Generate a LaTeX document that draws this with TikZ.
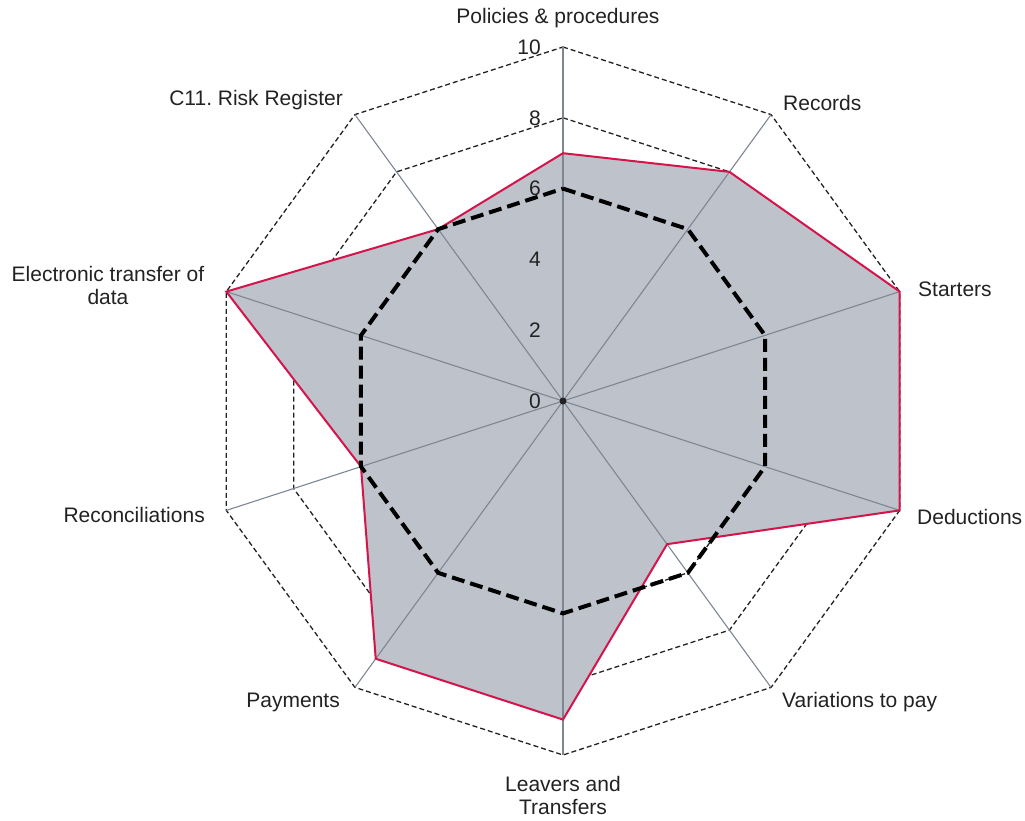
\documentclass[tikz,border=0pt]{standalone}
\usepackage{fontspec}
\setmainfont{Liberation Sans}
\usetikzlibrary{positioning}
\definecolor{spoke}{HTML}{7D8794}
\definecolor{panelgray}{HTML}{BEC2CA}
\definecolor{crimson}{HTML}{D4144A}
\definecolor{ink}{HTML}{222222}
\frenchspacing

\begin{document}
\begin{tikzpicture}[x=1pt, y=1pt,
  ring/.style={draw=ink, line width=1.3pt, dash pattern=on 5pt off 3pt},
  axis/.style={draw=spoke, line width=1.1pt},
  score/.style={draw=crimson, line width=2pt, line join=miter},
  target/.style={draw=black, line width=4pt, dash pattern=on 13pt off 6pt},
  lbl/.style={font=\fontsize{21}{23}\selectfont, text=ink, inner sep=0pt, align=center},
  tick/.style={lbl, anchor=east}]
  \useasboundingbox (-563,-419) rectangle (462,401);
  % rings, every 2 points
  \foreach \r in {2,4,...,10}
    \draw[ring] (90:{\r*35.4}) \foreach \k in {1,...,9}{ -- ({90-36*\k}:{\r*35.4})} -- cycle;
  % scores and target
  \foreach \v [count=\i from 0] in {7,8,10,10,5,9,9,6,10,6}
    \coordinate (s\i) at ({90-36*\i}:{\v*35.4});
  \foreach \i in {0,...,9} {
    \coordinate (t\i) at ({90-36*\i}:{6*35.4});
    \coordinate (e\i) at ({90-36*\i}:354);
  }
  \coordinate (o) at (0,0);
  \fill[panelgray] (s0) \foreach \i in {1,...,9}{ -- (s\i)} -- cycle;
  \foreach \i in {0,...,9}
    \draw[axis] (o) -- (e\i);
  \draw[score] (s0) \foreach \i in {1,...,9}{ -- (s\i)} -- cycle;
  \draw[target] (t0) \foreach \i in {1,...,9}{ -- (t\i)} -- cycle;
  \fill[ink] (o) circle (3.5pt);
  % scale
  \foreach \v in {0,2,...,10}
    \node[tick] (tk\v) at (-22,{\v*35.4}) {\v};
  % axis names
  \node[lbl] (pol) at (-5,383) {Policies \& procedures};
  \node[lbl, anchor=west] (rec) at (220,298) {Records};
  \node[lbl, anchor=west] (sta) at (355,112) {Starters};
  \node[lbl, anchor=west] (ded) at (354,-116) {Deductions};
  \node[lbl, anchor=west] (var) at (219,-301) {Variations to pay};
  \node[lbl] (lea) at (0,-394) {Leavers and\\Transfers};
  \node[lbl, anchor=east] (pay) at (-223,-301) {Payments};
  \node[lbl, anchor=east] (rcn) at (-358,-114) {Reconciliations};
  \node[lbl] (etd) at (-455,116) {Electronic transfer of\\data};
  \node[lbl, anchor=east] (c11) at (-220,301) {C11. Risk Register};
\end{tikzpicture}
\end{document}
